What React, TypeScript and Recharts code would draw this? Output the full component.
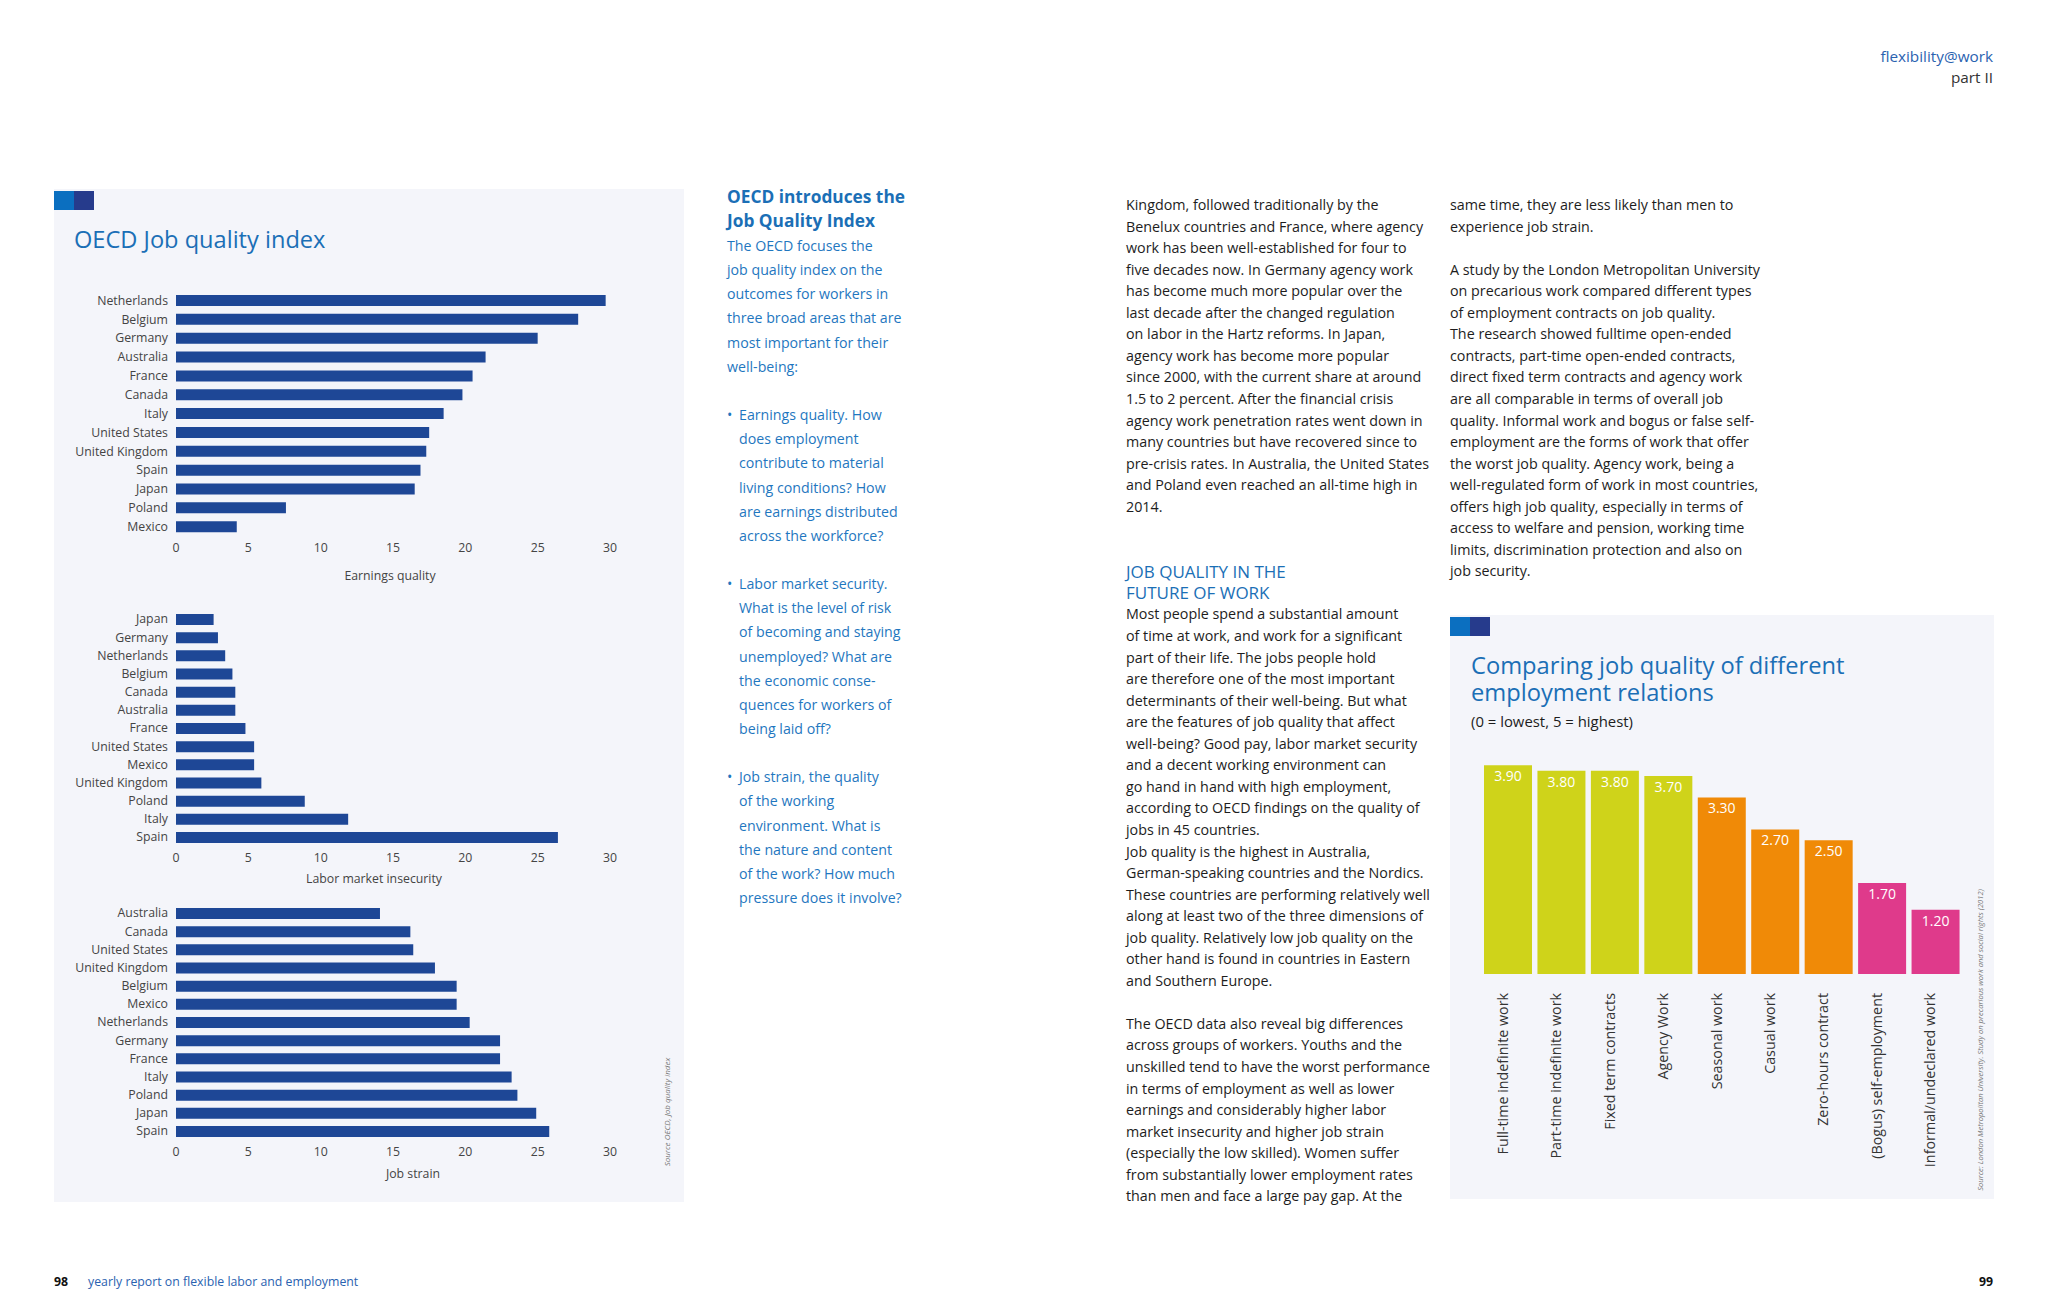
import React from 'react'
import { BarChart, Bar, XAxis, YAxis, Cell, LabelList, Label } from 'recharts'

// ---- data ----
const earningsCountries = ['Netherlands', 'Belgium', 'Germany', 'Australia', 'France', 'Canada', 'Italy', 'United States', 'United Kingdom', 'Spain', 'Japan', 'Poland', 'Mexico']
const earningsValues = [29.7, 27.8, 25.0, 21.4, 20.5, 19.8, 18.5, 17.5, 17.3, 16.9, 16.5, 7.6, 4.2]

const insecurityCountries = ['Japan', 'Germany', 'Netherlands', 'Belgium', 'Canada', 'Australia', 'France', 'United States', 'Mexico', 'United Kingdom', 'Poland', 'Italy', 'Spain']
const insecurityValues = [2.6, 2.9, 3.4, 3.9, 4.1, 4.1, 4.8, 5.4, 5.4, 5.9, 8.9, 11.9, 26.4]

const strainCountries = ['Australia', 'Canada', 'United States', 'United Kingdom', 'Belgium', 'Mexico', 'Netherlands', 'Germany', 'France', 'Italy', 'Poland', 'Japan', 'Spain']
const strainValues = [14.1, 16.2, 16.4, 17.9, 19.4, 19.4, 20.3, 22.4, 22.4, 23.2, 23.6, 24.9, 25.8]

const indexTicks = [0, 5, 10, 15, 20, 25, 30]

const relationCategories = ['Full-time indefinite work', 'Part-time indefinite work', 'Fixed term contracts', 'Agency Work', 'Seasonal work', 'Casual work', 'Zero-hours contract', '(Bogus) self-employment', 'Informal/undeclared work']
const relationValues = [3.9, 3.8, 3.8, 3.7, 3.3, 2.7, 2.5, 1.7, 1.2]
const relationGroups = ['standard', 'standard', 'standard', 'standard', 'flexible', 'flexible', 'flexible', 'precarious', 'precarious']

// ---- text ----
const introHeading = ['OECD introduces the', 'Job Quality Index']
const introLines: Array<[string, boolean]> = [
  ['The OECD focuses the', false],
  ['job quality index on the', false],
  ['outcomes for workers in', false],
  ['three broad areas that are', false],
  ['most important for their', false],
  ['well-being:', false],
  ['', false],
  ['• Earnings quality. How', true],
  ['does employment', true],
  ['contribute to material', true],
  ['living conditions? How', true],
  ['are earnings distributed', true],
  ['across the workforce?', true],
  ['', false],
  ['• Labor market security.', true],
  ['What is the level of risk', true],
  ['of becoming and staying', true],
  ['unemployed? What are', true],
  ['the economic conse-', true],
  ['quences for workers of', true],
  ['being laid off?', true],
  ['', false],
  ['• Job strain, the quality', true],
  ['of the working', true],
  ['environment. What is', true],
  ['the nature and content', true],
  ['of the work? How much', true],
  ['pressure does it involve?', true],
]

const middleLines = [
  'Kingdom, followed traditionally by the',
  'Benelux countries and France, where agency',
  'work has been well-established for four to',
  'five decades now. In Germany agency work',
  'has become much more popular over the',
  'last decade after the changed regulation',
  'on labor in the Hartz reforms. In Japan,',
  'agency work has become more popular',
  'since 2000, with the current share at around',
  '1.5 to 2 percent. After the financial crisis',
  'agency work penetration rates went down in',
  'many countries but have recovered since to',
  'pre-crisis rates. In Australia, the United States',
  'and Poland even reached an all-time high in',
  '2014.',
  '',
  '',
  '#JOB QUALITY IN THE',
  '#FUTURE OF WORK',
  'Most people spend a substantial amount',
  'of time at work, and work for a significant',
  'part of their life. The jobs people hold',
  'are therefore one of the most important',
  'determinants of their well-being. But what',
  'are the features of job quality that affect',
  'well-being? Good pay, labor market security',
  'and a decent working environment can',
  'go hand in hand with high employment,',
  'according to OECD findings on the quality of',
  'jobs in 45 countries.',
  'Job quality is the highest in Australia,',
  'German-speaking countries and the Nordics.',
  'These countries are performing relatively well',
  'along at least two of the three dimensions of',
  'job quality. Relatively low job quality on the',
  'other hand is found in countries in Eastern',
  'and Southern Europe.',
  '',
  'The OECD data also reveal big differences',
  'across groups of workers. Youths and the',
  'unskilled tend to have the worst performance',
  'in terms of employment as well as lower',
  'earnings and considerably higher labor',
  'market insecurity and higher job strain',
  '(especially the low skilled). Women suffer',
  'from substantially lower employment rates',
  'than men and face a large pay gap. At the',
]

const rightLines = [
  'same time, they are less likely than men to',
  'experience job strain.',
  '',
  'A study by the London Metropolitan University',
  'on precarious work compared different types',
  'of employment contracts on job quality.',
  'The research showed fulltime open-ended',
  'contracts, part-time open-ended contracts,',
  'direct fixed term contracts and agency work',
  'are all comparable in terms of overall job',
  'quality. Informal work and bogus or false self-',
  'employment are the forms of work that offer',
  'the worst job quality. Agency work, being a',
  'well-regulated form of work in most countries,',
  'offers high job quality, especially in terms of',
  'access to welfare and pension, working time',
  'limits, discrimination protection and also on',
  'job security.',
]

const FONT = '"Open Sans", "Noto Sans", sans-serif'
const BLUE = '#1b6fb6'
const BAR_BLUE = '#1e4796'
const PANEL = '#f4f5fa'
const groupColors: Record<string, string> = { standard: '#cfd31a', flexible: '#f08a07', precarious: '#df3a8b' }

function Squares({ x, y }: { x: number; y: number }) {
  return (
    <div style={{ position: 'absolute', left: x, top: y, display: 'flex' }}>
      <div style={{ width: 20, height: 19, background: '#0b6fc0' }} />
      <div style={{ width: 20, height: 19, background: '#263b8c' }} />
    </div>
  )
}

function CountryBars(props: {
  countries: string[]
  values: number[]
  axisLabel: string
  top: number
  rowHeight: number
  labelDx: number
  labelGap: number
}) {
  const { countries, values, axisLabel, top, rowHeight, labelDx, labelGap } = props
  const data = countries.map((name, i) => ({ name, value: values[i] }))
  const plotHeight = rowHeight * countries.length
  const marginTop = 10
  const axisH = 50
  const tickStyle = { fontSize: 12.3, fill: '#444', fontFamily: FONT }
  return (
    <div style={{ position: 'absolute', left: 54, top: top - marginTop }}>
      <BarChart
        width={630}
        height={marginTop + plotHeight + axisH}
        data={data}
        layout="vertical"
        margin={{ top: marginTop, right: 74, bottom: 0, left: 0 }}
      >
        <XAxis
          type="number"
          domain={[0, 30]}
          ticks={indexTicks}
          interval={0}
          axisLine={false}
          tickLine={false}
          tickSize={0}
          tickMargin={7}
          height={axisH}
          tick={tickStyle}
        >
          <Label value={axisLabel} position="insideBottom" offset={axisH - labelGap} dx={labelDx} style={tickStyle} />
        </XAxis>
        <YAxis
          type="category"
          dataKey="name"
          width={122}
          interval={0}
          axisLine={false}
          tickLine={false}
          tickSize={0}
          tickMargin={8}
          tick={tickStyle}
        />
        <Bar dataKey="value" fill={BAR_BLUE} barSize={11} isAnimationActive={false} />
      </BarChart>
    </div>
  )
}

function RotatedTick(props: any) {
  const { x, y, payload } = props
  return (
    <text
      transform={`translate(${x},${y + 11}) rotate(-90)`}
      textAnchor="end"
      fontSize={14.3}
      fill="#333"
      fontFamily={FONT}
    >
      {payload.value}
    </text>
  )
}

function RelationsChart() {
  const data = relationCategories.map((name, i) => ({ name, value: relationValues[i], group: relationGroups[i] }))
  return (
    <div style={{ position: 'absolute', left: 1450, top: 740 }}>
      <BarChart width={544} height={440} data={data} margin={{ top: 20, right: 32, bottom: 0, left: 31 }}>
        <XAxis dataKey="name" interval={0} axisLine={false} tickLine={false} height={206} tick={<RotatedTick />} />
        <YAxis hide width={0} domain={[0, 4]} />
        <Bar dataKey="value" barSize={48} isAnimationActive={false}>
          {data.map((d, i) => (
            <Cell key={`c-${i}`} fill={groupColors[d.group]} />
          ))}
          <LabelList
            dataKey="value"
            position="insideTop"
            offset={6}
            fill="#fff"
            fontSize={14}
            fontFamily={FONT}
            formatter={(v: any) => Number(v).toFixed(2)}
          />
        </Bar>
      </BarChart>
    </div>
  )
}

function Line(props: { x: number; y: number; h: number; style?: React.CSSProperties; children: React.ReactNode }) {
  return (
    <div
      style={{
        position: 'absolute',
        left: props.x,
        top: props.y - props.h / 2,
        height: props.h,
        lineHeight: `${props.h}px`,
        whiteSpace: 'pre',
        ...props.style,
      }}
    >
      {props.children}
    </div>
  )
}

// several lines in one text block, first line centred on y
function Block(props: { x: number; y: number; step: number; lines: string[]; style?: React.CSSProperties }) {
  return (
    <div
      style={{
        position: 'absolute',
        left: props.x,
        top: props.y - props.step / 2,
        lineHeight: `${props.step}px`,
        whiteSpace: 'pre',
        ...props.style,
      }}
    >
      {props.lines.join('\n')}
    </div>
  )
}

function Rotated({ x, y, text, size }: { x: number; y: number; text: string; size: number }) {
  return (
    <div
      style={{
        position: 'absolute',
        left: x,
        top: y,
        transform: 'translate(-50%, -50%) rotate(-90deg)',
        whiteSpace: 'nowrap',
        fontSize: size,
        fontStyle: 'italic',
        color: '#777',
      }}
    >
      {text}
    </div>
  )
}

export default function App() {
  const bodyStyle: React.CSSProperties = { fontSize: 14.3, color: '#1d1d1d' }
  const introStyle: React.CSSProperties = { fontSize: 14.2, color: '#1f77c0' }
  const step = 21.55
  const headingAt = middleLines.findIndex((t) => t.startsWith('#'))
  const headingLines = middleLines.filter((t) => t.startsWith('#')).map((t) => t.slice(1))
  return (
    <div
      style={{
        position: 'absolute',
        left: 0,
        top: 0,
        width: 2048,
        height: 1316,
        background: '#fff',
        fontFamily: FONT,
        overflow: 'hidden',
      }}
    >
      {/* header */}
      <div style={{ position: 'absolute', right: 55, top: 46, textAlign: 'right', fontSize: 15.3, lineHeight: '21px' }}>
        <div style={{ color: '#2a62b0' }}>flexibility@work</div>
        <div style={{ color: '#333' }}>part II</div>
      </div>

      {/* left panel */}
      <div style={{ position: 'absolute', left: 54, top: 189, width: 630, height: 1013, background: PANEL }} />
      <Squares x={54} y={191} />
      <Line x={74} y={239} h={30} style={{ fontSize: 23.6, color: BLUE }}>
        OECD Job quality index
      </Line>
      <CountryBars countries={earningsCountries} values={earningsValues} axisLabel="Earnings quality" top={290.6} rowHeight={18.85} labelDx={-3} labelGap={44} />
      <CountryBars countries={insecurityCountries} values={insecurityValues} axisLabel="Labor market insecurity" top={610} rowHeight={18.17} labelDx={-19} labelGap={37} />
      <CountryBars countries={strainCountries} values={strainValues} axisLabel="Job strain" top={904} rowHeight={18.17} labelDx={20} labelGap={38} />
      <Rotated x={666} y={1112} text="Source OECD, Job quality index" size={8} />

      {/* intro column */}
      <Block x={727} y={197} step={24} lines={introHeading} style={{ fontSize: 17.3, fontWeight: 700, color: BLUE }} />
      {introLines.map(([t, indent], i) =>
        t ? (
          <Line key={`i-${i}`} x={indent && !t.startsWith('•') ? 739 : 727} y={246 + i * 24.15} h={22} style={introStyle}>
            {t.startsWith('•') ? (
              <>
                <span style={{ display: 'inline-block', width: 12 }}>•</span>
                {t.slice(2)}
              </>
            ) : (
              t
            )}
          </Line>
        ) : null
      )}

      {/* middle column */}
      {middleLines.map((t, i) =>
        t && !t.startsWith('#') ? (
          <Line key={`m-${i}`} x={1126} y={205 + i * step} h={20} style={bodyStyle}>
            {t}
          </Line>
        ) : null
      )}
      <Block x={1126} y={205 + headingAt * step} step={step} lines={headingLines} style={{ fontSize: 17, color: BLUE }} />

      {/* right column */}
      {rightLines.map((t, i) =>
        t ? (
          <Line key={`r-${i}`} x={1450} y={205 + i * step} h={20} style={bodyStyle}>
            {t}
          </Line>
        ) : null
      )}

      {/* right panel */}
      <div style={{ position: 'absolute', left: 1450, top: 615, width: 544, height: 584, background: PANEL }} />
      <Squares x={1450} y={617} />
      <Block
        x={1471}
        y={665}
        step={27}
        lines={['Comparing job quality of different', 'employment relations']}
        style={{ fontSize: 23.7, color: BLUE }}
      />
      <Line x={1471} y={721} h={18} style={{ fontSize: 14.9, color: '#1d1d1d' }}>
        (0 = lowest, 5 = highest)
      </Line>
      <RelationsChart />
      <Rotated x={1980} y={1040} text="Source: London Metropolitan University. Study on precarious work and social rights (2012)" size={7.6} />

      {/* footer */}
      <Line x={54} y={1282} h={16} style={{ fontSize: 12.3, fontWeight: 700, color: '#111' }}>
        98
      </Line>
      <Line x={88} y={1282} h={16} style={{ fontSize: 12.3, color: '#2a62b0' }}>
        yearly report on flexible labor and employment
      </Line>
      <div style={{ position: 'absolute', right: 55, top: 1273, fontSize: 12.3, fontWeight: 700, color: '#111' }}>99</div>
    </div>
  )
}
